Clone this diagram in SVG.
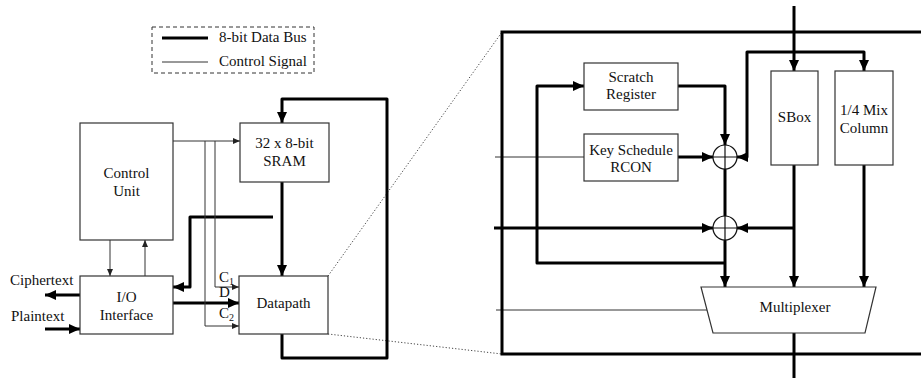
<svg xmlns="http://www.w3.org/2000/svg" width="921" height="378" viewBox="0 0 921 378">
<style>
text{font-family:"Liberation Serif","DejaVu Serif",serif;font-size:15px;fill:#111;text-anchor:middle}
.box{fill:#fff;stroke:#333;stroke-width:1.2}
.bus{fill:none;stroke:#000;stroke-width:3;stroke-linejoin:round}
.ctl{fill:none;stroke:#333;stroke-width:1}
.dot{fill:none;stroke:#444;stroke-width:1;stroke-dasharray:1.2 2}
.xor{fill:#fff;stroke:#111;stroke-width:1.2}
.l{text-anchor:start}
</style>
<defs>
<marker id="ab" markerUnits="userSpaceOnUse" markerWidth="11" markerHeight="10" refX="11" refY="5" orient="auto"><path d="M0,0 L11,5 L0,10 z" fill="#000"/></marker>
<marker id="as" markerUnits="userSpaceOnUse" markerWidth="7" markerHeight="6" refX="7" refY="3" orient="auto"><path d="M0,0 L7,3 L0,6 z" fill="#222"/></marker>
</defs>

<g id="legend">
<rect x="152" y="27" width="162" height="46" fill="none" stroke="#333" stroke-width="1" stroke-dasharray="4 3"/>
<line x1="162" y1="38" x2="208" y2="38" stroke="#000" stroke-width="3"/>
<line x1="162" y1="62" x2="208" y2="62" stroke="#333" stroke-width="1"/>
<text class="l" x="219" y="42">8-bit Data Bus</text>
<text class="l" x="219" y="66">Control Signal</text>
</g>

<g id="connectors">
<line class="dot" x1="328" y1="276" x2="502" y2="32"/>
<line class="dot" x1="328" y1="334" x2="502" y2="354"/>
<path class="bus" d="M282,334 V358 H387 V99 H282 V123" marker-end="url(#ab)"/>
<path class="bus" d="M282,182 V276" marker-end="url(#ab)"/>
<path class="bus" d="M273,217 H190 V287 H173" marker-end="url(#ab)"/>
<path class="bus" d="M173,303 H239" marker-end="url(#ab)"/>
<path class="bus" d="M80,295 H45" marker-end="url(#ab)"/>
<path class="bus" d="M45,329 H80" marker-end="url(#ab)"/>
<path class="ctl" d="M173,141 H240" marker-end="url(#as)"/>
<path class="ctl" d="M215,141 V287 H239" marker-end="url(#as)"/>
<path class="ctl" d="M205,141 V326 H239" marker-end="url(#as)"/>
<path class="ctl" d="M110,240 V276" marker-end="url(#as)"/>
<path class="ctl" d="M145,276 V240" marker-end="url(#as)"/>
<path class="bus" d="M794,6 V71" marker-end="url(#ab)"/>
<path class="bus" d="M794,52 H747 V157 H737" marker-end="url(#ab)"/>
<path class="bus" d="M794,52 H864 V71" marker-end="url(#ab)"/>
<path class="bus" d="M678,86 H725 V145" marker-end="url(#ab)"/>
<path class="bus" d="M678,157 H713" marker-end="url(#ab)"/>
<path class="ctl" d="M495,157 H584"/>
<path class="bus" d="M725,169 V216"/>
<path class="bus" d="M494,228 H713" marker-end="url(#ab)"/>
<path class="bus" d="M794,228 H737" marker-end="url(#ab)"/>
<path class="bus" d="M725,240 V287" marker-end="url(#ab)"/>
<path class="bus" d="M725,263 H537 V86 H584" marker-end="url(#ab)"/>
<path class="bus" d="M794,165 V287" marker-end="url(#ab)"/>
<path class="bus" d="M864,165 V287" marker-end="url(#ab)"/>
<path class="ctl" d="M496,310 H707"/>
<path class="bus" d="M794,333 V378"/>
</g>

<g id="datapath-detail">
<rect x="502" y="32" width="440" height="322" fill="none" stroke="#000" stroke-width="3"/>
</g>

<g id="control-unit">
<rect class="box" x="80" y="123" width="93" height="117"/>
<text x="126.5" y="178">Control</text>
<text x="126.5" y="196">Unit</text>
</g>

<g id="sram">
<rect class="box" x="240" y="123" width="89" height="59"/>
<text x="284.5" y="148">32 x 8-bit</text>
<text x="284.5" y="166">SRAM</text>
</g>

<g id="io">
<rect class="box" x="80" y="276" width="93" height="58"/>
<text x="126.5" y="302">I/O</text>
<text x="126.5" y="320">Interface</text>
</g>

<g id="datapath">
<rect class="box" x="239" y="276" width="89" height="58"/>
<text x="283.5" y="308">Datapath</text>
</g>

<g id="io-labels">
<text class="l" x="10" y="285">Ciphertext</text>
<text class="l" x="11" y="321">Plaintext</text>
<text class="l" x="219" y="282">C<tspan dy="3" font-size="10">1</tspan></text>
<text class="l" x="219" y="297">D</text>
<text class="l" x="219" y="318">C<tspan dy="3" font-size="10">2</tspan></text>
</g>

<g id="scratch-register">
<rect class="box" x="584" y="63" width="94" height="47"/>
<text x="631" y="82">Scratch</text>
<text x="631" y="99">Register</text>
</g>

<g id="key-schedule">
<rect class="box" x="584" y="134" width="94" height="47"/>
<text x="631" y="155">Key Schedule</text>
<text x="631" y="172">RCON</text>
</g>

<g id="xor1">
<circle class="xor" cx="725" cy="157" r="12"/>
<path class="xor" d="M713,157 H737 M725,145 V169"/>
</g>

<g id="xor2">
<circle class="xor" cx="725" cy="228" r="12"/>
<path class="xor" d="M713,228 H737 M725,216 V240"/>
</g>

<g id="sbox">
<rect class="box" x="771" y="71" width="47" height="94"/>
<text x="794.5" y="122">SBox</text>
</g>

<g id="mix-column">
<rect class="box" x="835" y="71" width="58" height="94"/>
<text x="864" y="115">1/4 Mix</text>
<text x="864" y="133">Column</text>
</g>

<g id="multiplexer">
<path class="box" d="M701,287 H876 L865,333 H713 Z"/>
<text x="795" y="312">Multiplexer</text>
</g>
</svg>
